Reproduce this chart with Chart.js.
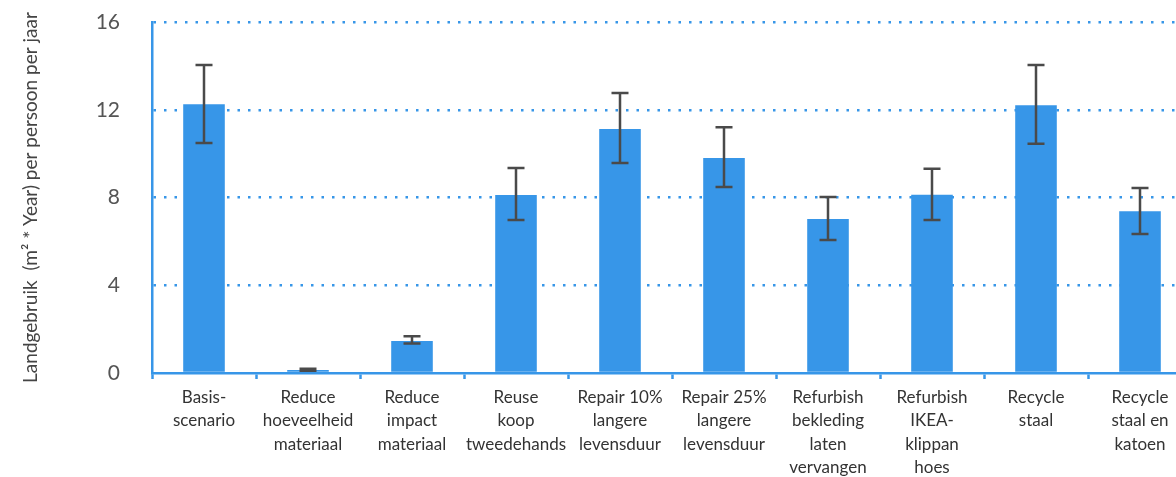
<!DOCTYPE html>
<html>
<head>
<meta charset="utf-8">
<script src="https://cdn.jsdelivr.net/npm/chart.js@4/dist/chart.umd.min.js"></script>
<style>
  html, body { margin: 0; padding: 0; background: #fff; overflow: hidden; }
  #wrap { position: relative; width: 1200px; height: 477px; }
</style>
</head>
<body>
<div id="wrap"><canvas id="landChart"></canvas></div>
<script>
const categories = [
  ["Basis-", "scenario"],
  ["Reduce", "hoeveelheid", "materiaal"],
  ["Reduce", "impact", "materiaal"],
  ["Reuse", "koop", "tweedehands"],
  ["Repair 10%", "langere", "levensduur"],
  ["Repair 25%", "langere", "levensduur"],
  ["Refurbish", "bekleding", "laten", "vervangen"],
  ["Refurbish", "IKEA-", "klippan", "hoes"],
  ["Recycle", "staal"],
  ["Recycle", "staal en", "katoen"],
];
const landUse = [12.25, 0.14, 1.46, 8.11, 11.12, 9.8, 7.02, 8.13, 12.21, 7.37];
const errLow  = [10.48, 0.1, 1.34, 6.97, 9.57, 8.48, 6.06, 6.97, 10.45, 6.34];
const errHigh = [14.04, 0.19, 1.67, 9.34, 12.76, 11.2, 8.02, 9.31, 14.04, 8.43];
const yTicks = [0, 4, 8, 12, 16];

const blue = "#3796e8";

// error bars drawn on top of the bars
const errorBars = {
  id: "errorBars",
  afterDatasetsDraw(chart) {
    const ctx = chart.ctx;
    const y = chart.scales.y;
    const meta = chart.getDatasetMeta(0);
    ctx.save();
    ctx.strokeStyle = "#4a4a4a";
    ctx.lineWidth = 2.5;
    meta.data.forEach((bar, i) => {
      const top = y.getPixelForValue(errHigh[i]);
      const bot = y.getPixelForValue(errLow[i]);
      ctx.beginPath();
      ctx.moveTo(bar.x, top);
      ctx.lineTo(bar.x, bot);
      ctx.moveTo(bar.x - 8.5, top);
      ctx.lineTo(bar.x + 8.5, top);
      ctx.moveTo(bar.x - 8.5, bot);
      ctx.lineTo(bar.x + 8.5, bot);
      ctx.stroke();
    });
    ctx.restore();
  },
};

const ctx = document.getElementById("landChart").getContext("2d");
new Chart(ctx, {
  type: "bar",
  data: {
    labels: categories,
    datasets: [{
      data: landUse,
      backgroundColor: blue,
      borderWidth: 0,
      barPercentage: 0.8,
      categoryPercentage: 0.5,
    }],
  },
  options: {
    responsive: true,
    maintainAspectRatio: false,
    animation: false,
    layout: { padding: { top: 22, right: 8, left: 0, bottom: 0 } },
    plugins: { legend: { display: false }, tooltip: { enabled: false } },
    scales: {
      x: {
        afterFit(scale) { scale.height = 104; },
        grid: {
          offset: true,
          drawOnChartArea: false,
          drawTicks: true,
          tickLength: 6,
          tickWidth: 2.5,
          tickColor: blue,
        },
        border: { color: blue, width: 2.5 },
        ticks: {
          padding: 7,
          maxRotation: 0,
          autoSkip: false,
          color: "#333",
          font: { family: "Lato", size: 17, lineHeight: 1.37 },
        },
      },
      y: {
        min: 0,
        max: 16,
        afterFit(scale) { scale.width = 152; },
        afterBuildTicks(scale) { scale.ticks = yTicks.map(v => ({ value: v })); },
        grid: {
          drawTicks: true,
          tickLength: 32,
          tickColor: "rgba(0,0,0,0)",
          color: (c) => (c.tick && c.tick.value === 0 ? "rgba(0,0,0,0)" : blue),
          lineWidth: 2.5,
        },
        border: { color: blue, width: 2.5, dash: [2.5, 8] },
        ticks: {
          padding: 0,
          color: "#555",
          font: { family: "Lato", size: 21 },
        },
        title: {
          display: true,
          text: "Landgebruik  (m² * Year) per persoon per jaar",
          color: "#444",
          font: { family: "Lato", size: 19 },
          padding: { top: 19, bottom: 0 },
        },
      },
    },
  },
  plugins: [errorBars],
});
</script>
</body>
</html>
